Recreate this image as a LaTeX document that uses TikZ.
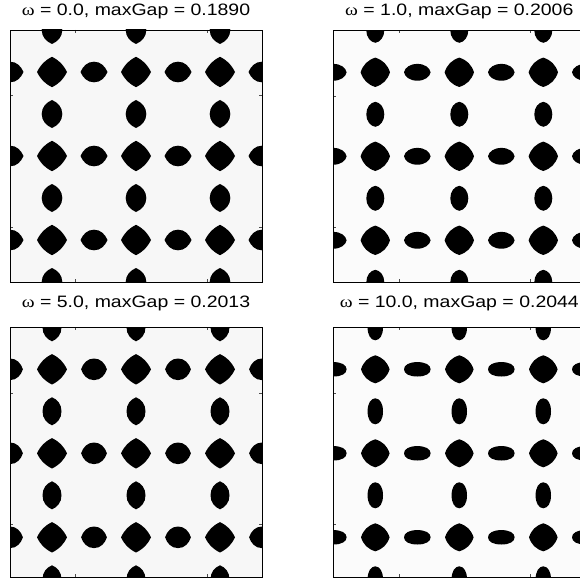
\documentclass[tikz,border=0pt]{standalone}
\usepackage{fontspec,graphicx}
\setmainfont{Liberation Sans}
\newfontfamily\omegafont{Liberation Serif}
\usetikzlibrary{positioning}
\definecolor{bgdark}{gray}{0.969}
\definecolor{bglight}{gray}{0.986}

% blob shape: half width, half height, controls at the side tip (p,q) and at the top tip (r,s)
\newcommand{\setblob}[6]{\def\ba{#1}\def\bb{#2}\def\bp{#3}\def\bq{#4}\def\br{#5}\def\bs{#6}}
\newcommand{\gapblob}[2]{%
  \fill ({#1+\ba},{#2})
    .. controls ({#1+\ba*(1-\bp)},{#2+\bb*\bq}) and ({#1+\ba*\br},{#2+\bb*(1-\bs)}) .. ({#1},{#2+\bb})
    .. controls ({#1-\ba*\br},{#2+\bb*(1-\bs)}) and ({#1-\ba*(1-\bp)},{#2+\bb*\bq}) .. ({#1-\ba},{#2})
    .. controls ({#1-\ba*(1-\bp)},{#2-\bb*\bq}) and ({#1-\ba*\br},{#2-\bb*(1-\bs)}) .. ({#1},{#2-\bb})
    .. controls ({#1+\ba*\br},{#2-\bb*(1-\bs)}) and ({#1+\ba*(1-\bp)},{#2-\bb*\bq}) .. cycle;}
\newcommand{\gaptitle}[2]{\scalebox{1.18}[1]{{\omegafont ω} = #1, maxGap = #2}}

\begin{document}
\begin{tikzpicture}[x=1pt,y=-1pt,
  paneltitle/.style={anchor=base,inner sep=0pt,font=\fontsize{16.5}{18}\selectfont},
  panelframe/.style={draw=black,line width=0.9pt},
  paneltick/.style={draw=black!70,line width=0.5pt}
]
  \useasboundingbox (0,0) rectangle (579,583);
  \fill[white] (0,0) rectangle (579,583);
  % Panel 1: omega = 0
  \begin{scope}[shift={(10,30)}]
    \fill[bgdark] (0,0) rectangle (252,252);
    \begin{scope}
      \clip (0,0) rectangle (252,252);
      \setblob{15}{15.2}{0.26}{0.5}{0.5}{0.26}
      \foreach \c in {1,3,5} \foreach \r in {1,3,5} {\gapblob{42*\c}{42*\r}}
      \setblob{13.5}{10.3}{0.18}{0.55}{0.5}{0}
      \foreach \c in {0,2,4,6} \foreach \r in {1,3,5} {\gapblob{42*\c}{42*\r}}
      \setblob{10.3}{14}{0}{0.5}{0.55}{0.18}
      \foreach \c in {1,3,5} \foreach \r in {0,2,4,6} {\gapblob{42*\c}{42*\r}}
    \end{scope}
    \foreach \t in {65.6,196.9} {
      \draw[paneltick] (\t,0) -- (\t,3) (\t,252) -- (\t,249);
      \draw[paneltick] (0,\t) -- (3,\t) (252,\t) -- (249,\t);
    }
    \draw[panelframe] (0,0) rectangle (252,252);
  \end{scope}
  % Panel 2: omega = 1
  \begin{scope}[shift={(333.3,30.3)}]
    \fill[bglight] (0,0) rectangle (252,252);
    \begin{scope}
      \clip (0,0) rectangle (252,252);
      \setblob{14.7}{14.7}{0.18}{0.53}{0.53}{0.18}
      \foreach \c in {1,3,5} \foreach \r in {1,3,5} {\gapblob{42*\c}{42*\r}}
      \setblob{13.3}{8.4}{0.06}{0.55}{0.55}{0}
      \foreach \c in {0,2,4,6} \foreach \r in {1,3,5} {\gapblob{42*\c}{42*\r}}
      \setblob{9}{12.5}{0}{0.55}{0.55}{0.06}
      \foreach \c in {1,3,5} \foreach \r in {0,2,4,6} {\gapblob{42*\c}{42*\r}}
    \end{scope}
    \foreach \t in {65.6,196.9} {
      \draw[paneltick] (\t,0) -- (\t,3) (\t,252) -- (\t,249);
      \draw[paneltick] (0,\t) -- (3,\t) (252,\t) -- (249,\t);
    }
    \draw[panelframe] (0,0) rectangle (252,252);
  \end{scope}
  % Panel 3: omega = 5
  \begin{scope}[shift={(10,327.3)}]
    \fill[bgdark] (0,0) rectangle (252,250);
    \begin{scope}
      \clip (0,0) rectangle (252,250);
      \setblob{15}{15.2}{0.25}{0.5}{0.5}{0.25}
      \foreach \c in {1,3,5} \foreach \r in {1,3,5} {\gapblob{42*\c}{42*\r}}
      \setblob{12.9}{10.8}{0.15}{0.55}{0.52}{0}
      \foreach \c in {0,2,4,6} \foreach \r in {1,3,5} {\gapblob{42*\c}{42*\r}}
      \setblob{9.5}{14}{0}{0.52}{0.55}{0.15}
      \foreach \c in {1,3,5} \foreach \r in {0,2,4,6} {\gapblob{42*\c}{42*\r}}
    \end{scope}
    \foreach \t in {65.6,196.9} {
      \draw[paneltick] (\t,0) -- (\t,3) (\t,250) -- (\t,247);
      \draw[paneltick] (0,\t) -- (3,\t) (252,\t) -- (249,\t);
    }
    \draw[panelframe] (0,0) rectangle (252,250);
  \end{scope}
  % Panel 4: omega = 10
  \begin{scope}[shift={(333.3,327.3)}]
    \fill[bglight] (0,0) rectangle (252,250);
    \begin{scope}
      \clip (0,0) rectangle (252,250);
      \setblob{14.3}{14}{0.18}{0.54}{0.54}{0.18}
      \foreach \c in {1,3,5} \foreach \r in {1,3,5} {\gapblob{42*\c}{42*\r}}
      \setblob{13.3}{7.2}{0}{0.6}{0.62}{0}
      \foreach \c in {0,2,4,6} \foreach \r in {1,3,5} {\gapblob{42*\c}{42*\r}}
      \setblob{7.7}{13}{0}{0.6}{0.6}{0.02}
      \foreach \c in {1,3,5} \foreach \r in {0,2,4,6} {\gapblob{42*\c}{42*\r}}
    \end{scope}
    \foreach \t in {65.6,196.9} {
      \draw[paneltick] (\t,0) -- (\t,3) (\t,250) -- (\t,247);
      \draw[paneltick] (0,\t) -- (3,\t) (252,\t) -- (249,\t);
    }
    \draw[panelframe] (0,0) rectangle (252,250);
  \end{scope}
  % Titles
  \node[paneltitle] (title0) at (136,15.5) {\gaptitle{0.0}{0.1890}};
  \node[paneltitle] (title1) at (459.3,15.5) {\gaptitle{1.0}{0.2006}};
  \node[paneltitle] (title5) at (136,307) {\gaptitle{5.0}{0.2013}};
  \node[paneltitle] (title10) at (459.3,307) {\gaptitle{10.0}{0.2044}};
\end{tikzpicture}
\end{document}
